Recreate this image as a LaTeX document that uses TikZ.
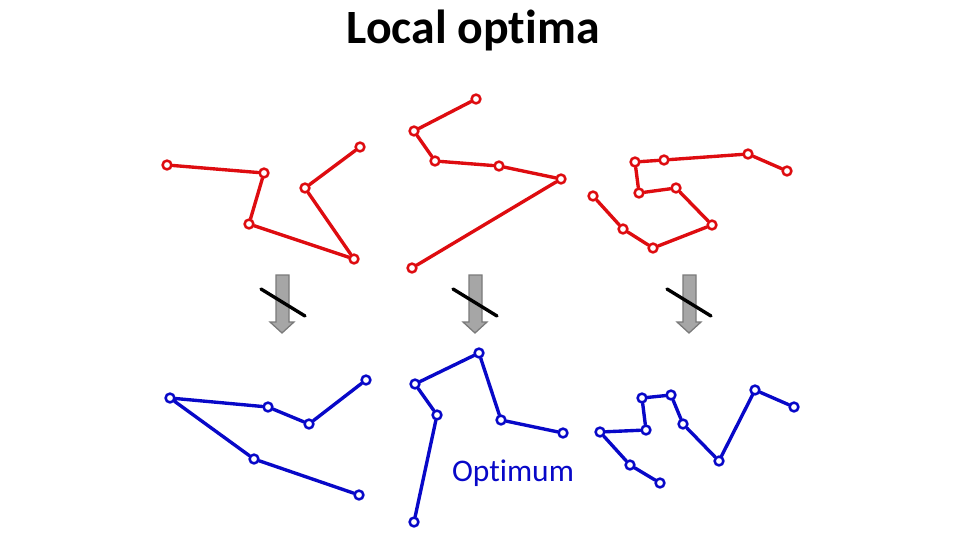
\documentclass[tikz,border=0pt]{standalone}
\usepackage{fontspec}
\setmainfont{Carlito}[Ligatures=NoCommon]
\definecolor{tourred}{RGB}{222,12,16}
\definecolor{tourblue}{RGB}{8,8,200}
\definecolor{arrowgray}{RGB}{166,166,166}
\definecolor{arroweddge}{RGB}{122,122,122}
\tikzset{
  city/.style={circle,draw,line width=1.8pt,fill=white,inner sep=0pt,minimum size=2.2mm},
  redcity/.style={city,draw=tourred},
  bluecity/.style={city,draw=tourblue},
  redtour/.style={draw=tourred,line width=2.4pt},
  bluetour/.style={draw=tourblue,line width=2.4pt},
  downarrow/.style={fill=arrowgray,draw=arroweddge,line width=0.9pt,line join=miter},
  barslash/.style={draw=black,line width=2.4pt}
}

\begin{document}
\begin{tikzpicture}[x=0.25mm,y=-0.25mm,line cap=round,line join=round]
  \useasboundingbox (0,0) rectangle (960,540);
  \node[anchor=base,font=\fontsize{34}{40}\selectfont\bfseries] (title) at (473,43) {Local optima};

  % first tour, red
  \node[redcity] (ra1) at (167,165) {};
  \node[redcity] (ra2) at (264,173) {};
  \node[redcity] (ra3) at (249,224) {};
  \node[redcity] (ra4) at (354,259) {};
  \node[redcity] (ra5) at (305,188) {};
  \node[redcity] (ra6) at (360,147) {};
  \draw[redtour] (ra1) -- (ra2) -- (ra3) -- (ra4) -- (ra5) -- (ra6);

  % second tour, red
  \node[redcity] (rb1) at (476,99) {};
  \node[redcity] (rb2) at (414,131) {};
  \node[redcity] (rb3) at (435,161) {};
  \node[redcity] (rb4) at (499,166) {};
  \node[redcity] (rb5) at (561,179) {};
  \node[redcity] (rb6) at (412,268) {};
  \draw[redtour] (rb1) -- (rb2) -- (rb3) -- (rb4) -- (rb5) -- (rb6);

  % third tour, red
  \node[redcity] (rc1) at (593,196) {};
  \node[redcity] (rc2) at (623,229) {};
  \node[redcity] (rc3) at (653,248) {};
  \node[redcity] (rc4) at (712,225) {};
  \node[redcity] (rc5) at (676,188) {};
  \node[redcity] (rc6) at (639,193) {};
  \node[redcity] (rc7) at (635,162) {};
  \node[redcity] (rc8) at (664,160) {};
  \node[redcity] (rc9) at (748,154) {};
  \node[redcity] (rc10) at (787,171) {};
  \draw[redtour] (rc1) -- (rc2) -- (rc3) -- (rc4) -- (rc5) -- (rc6) -- (rc7) -- (rc8) -- (rc9) -- (rc10);

  % arrows, crossed out
  \draw[downarrow] (276,275) -- (289,275) -- (289,322) -- (294,322) -- (282,333) -- (270,322) -- (276,322) -- cycle;
  \draw[barslash] (261,289) -- (305,316);
  \draw[downarrow] (469,275) -- (482,275) -- (482,322) -- (487,322) -- (475,333) -- (463,322) -- (469,322) -- cycle;
  \draw[barslash] (453,289) -- (497,316);
  \draw[downarrow] (683,275) -- (696,275) -- (696,322) -- (701,322) -- (689,333) -- (677,322) -- (683,322) -- cycle;
  \draw[barslash] (667,289) -- (711,316);

  % first tour, blue
  \node[bluecity] (ba1) at (366,380) {};
  \node[bluecity] (ba2) at (309,424) {};
  \node[bluecity] (ba3) at (268,407) {};
  \node[bluecity] (ba4) at (170,398) {};
  \node[bluecity] (ba5) at (254,459) {};
  \node[bluecity] (ba6) at (359,495) {};
  \draw[bluetour] (ba1) -- (ba2) -- (ba3) -- (ba4) -- (ba5) -- (ba6);

  % second tour, blue
  \node[bluecity] (bb1) at (414,522) {};
  \node[bluecity] (bb2) at (437,415) {};
  \node[bluecity] (bb3) at (415,384) {};
  \node[bluecity] (bb4) at (479,353) {};
  \node[bluecity] (bb5) at (501,420) {};
  \node[bluecity] (bb6) at (563,433) {};
  \draw[bluetour] (bb1) -- (bb2) -- (bb3) -- (bb4) -- (bb5) -- (bb6);
  \node[anchor=base,text=tourblue,font=\fontsize{22.4}{27}\selectfont] (optimum) at (513,481) {Optimum};

  % third tour, blue
  \node[bluecity] (bc1) at (660,483) {};
  \node[bluecity] (bc2) at (630,465) {};
  \node[bluecity] (bc3) at (600,432) {};
  \node[bluecity] (bc4) at (646,430) {};
  \node[bluecity] (bc5) at (642,398) {};
  \node[bluecity] (bc6) at (671,395) {};
  \node[bluecity] (bc7) at (683,424) {};
  \node[bluecity] (bc8) at (719,461) {};
  \node[bluecity] (bc9) at (755,390) {};
  \node[bluecity] (bc10) at (794,407) {};
  \draw[bluetour] (bc1) -- (bc2) -- (bc3) -- (bc4) -- (bc5) -- (bc6) -- (bc7) -- (bc8) -- (bc9) -- (bc10);
\end{tikzpicture}
\end{document}
